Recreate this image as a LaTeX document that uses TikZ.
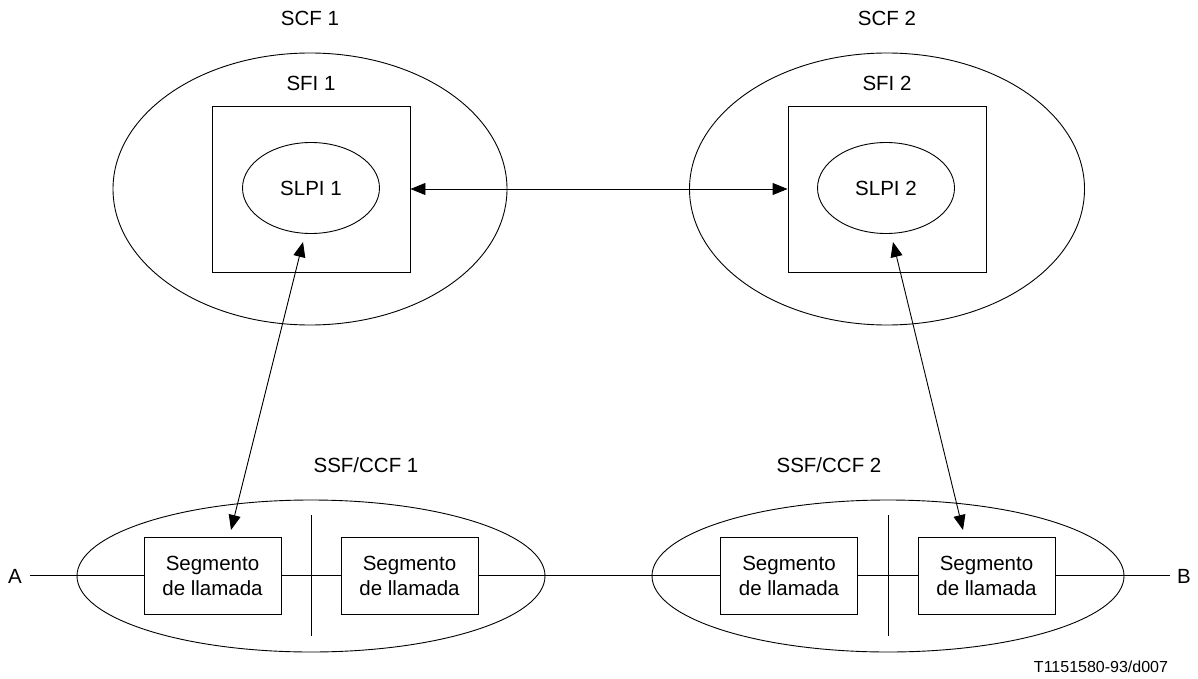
\documentclass[tikz,border=0pt]{standalone}
\usepackage{fontspec}
\setmainfont{Liberation Sans}
\usetikzlibrary{shapes.geometric,arrows.meta}
\begin{document}
\begin{tikzpicture}[x=1pt,y=-1pt,
  line width=0.9pt,
  lbl/.style={font=\fontsize{20.5}{24}\selectfont, inner sep=0pt},
  bigell/.style={draw, ellipse, inner sep=0pt},
  fibox/.style={draw, rectangle, minimum width=198pt, minimum height=166pt, inner sep=0pt},
  slpi/.style={draw, ellipse, minimum width=137pt, minimum height=91pt, inner sep=0pt, font=\fontsize{20.5}{24}\selectfont},
  segbox/.style={draw, rectangle, minimum width=137pt, minimum height=77pt, inner sep=0pt, align=center, font=\fontsize{20.5}{25}\selectfont},
  arr/.style={{Triangle[length=15pt,width=12pt]}-{Triangle[length=15pt,width=12pt]}}
]
\useasboundingbox (0,0) rectangle (1198,679);

% top groups
\node[bigell, minimum width=394pt, minimum height=272pt] (scf1) at (310,189) {};
\node[bigell, minimum width=395pt, minimum height=272pt] (scf2) at (887,189) {};
\node[lbl] (scf1l) at (310,18) {SCF 1};
\node[lbl] (scf2l) at (887,18) {SCF 2};
\node[lbl] (sfi1l) at (311,83) {SFI 1};
\node[lbl] (sfi2l) at (887,83) {SFI 2};
\node[fibox] (sfi1) at (311,189) {};
\node[fibox] (sfi2) at (887,189) {};
\node[slpi] (slpi1) at (311,188) {SLPI 1};
\node[slpi] (slpi2) at (886,188) {SLPI 2};

% bottom groups
\node[bigell, minimum width=468pt, minimum height=152pt] (ssf1) at (311,576) {};
\node[bigell, minimum width=472pt, minimum height=152pt] (ssf2) at (888,576) {};
\node[lbl] (ssf1l) at (366,465) {SSF/CCF 1};
\node[lbl] (ssf2l) at (829,465) {SSF/CCF 2};
\draw (311,515) -- (311,636);
\draw (888,515) -- (888,636);
\node[segbox] (seg1) at (212.5,575.5) {Segmento\\de llamada};
\node[segbox] (seg2) at (409.5,575.5) {Segmento\\de llamada};
\node[segbox] (seg3) at (789,575.5) {Segmento\\de llamada};
\node[segbox] (seg4) at (986.5,575.5) {Segmento\\de llamada};

% line A -- B
\node[lbl] (A) at (15,576) {A};
\node[lbl] (B) at (1184,576) {B};
\coordinate (a0) at (30,575.5);
\coordinate (b0) at (1170,575.5);
\draw (a0) -- (seg1.west);
\draw (seg1.east) -- (seg2.west);
\draw (seg2.east) -- (seg3.west);
\draw (seg3.east) -- (seg4.west);
\draw (seg4.east) -- (b0);

% arrows
\draw[arr] (sfi1.east) -- (sfi2.west);
\coordinate (t1) at (303,242);
\coordinate (u1) at (231,530);
\coordinate (t2) at (893,242);
\coordinate (u2) at (963,530);
\draw[arr] (t1) -- (u1);
\draw[arr] (t2) -- (u2);

\node[font=\fontsize{16}{19}\selectfont, inner sep=0pt] (ref) at (1101,667) {T1151580-93/d007};
\end{tikzpicture}
\end{document}
